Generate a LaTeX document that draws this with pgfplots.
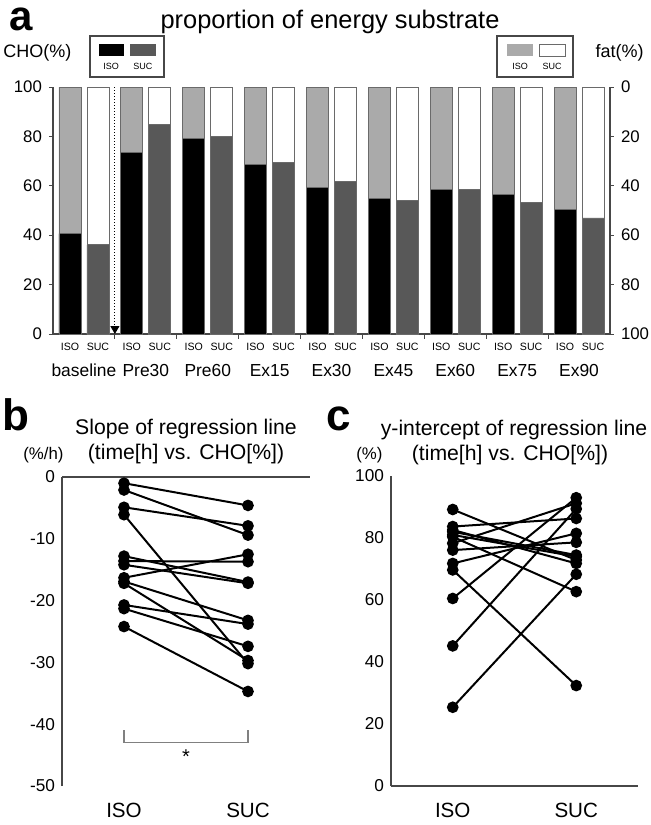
\documentclass[border=0pt]{standalone}
\usepackage{pgfplots}
\pgfplotsset{compat=1.18}
\usepackage{fontspec}
\setmainfont{Liberation Sans}
\usetikzlibrary{arrows.meta}
\definecolor{isofat}{HTML}{AAAAAA}
\definecolor{succho}{HTML}{585858}
\definecolor{edge}{HTML}{6A6A6A}
\definecolor{axc}{HTML}{474747}
\newcommand{\fs}[1]{\fontsize{#1}{#1}\selectfont}
\tikzset{pl/.style={black, line width=1pt, mark=*, mark size=2.4pt, mark options={solid, fill=black}}}
\begin{document}
\begin{tikzpicture}
\path[use as bounding box] (0,0) rectangle (325pt,-412.5pt);
% ---------------- panel a ----------------
\node[font=\bfseries\fs{21}, anchor=base west, inner sep=0] at (4.5pt,-15pt) {a};
\node[font=\fs{12.7}, anchor=base, inner sep=0] at (165pt,-14.3pt) {proportion of energy substrate};
\node[font=\fs{9}, anchor=base west, inner sep=0] at (1.5pt,-28.5pt) {CHO(\%)};
\node[font=\fs{9}, anchor=base east, inner sep=0] at (322pt,-28.5pt) {fat(\%)};
% legends
\draw[axc, line width=0.6pt] (45pt,-18pt) rectangle (82pt,-38.5pt);
\fill[black] (49.25pt,-22pt) rectangle (62pt,-28pt);
\fill[succho] (65pt,-22pt) rectangle (77.75pt,-28pt);
\node[font=\fs{4.5}] at (55.6pt,-33pt) {ISO};
\node[font=\fs{4.5}] at (71.4pt,-33pt) {SUC};
\draw[axc, line width=0.6pt] (248.5pt,-18pt) rectangle (286.5pt,-38.5pt);
\fill[isofat] (253.5pt,-22pt) rectangle (266.5pt,-28pt);
\draw[edge, line width=0.4pt, fill=white] (269.5pt,-22pt) rectangle (282.5pt,-28pt);
\node[font=\fs{4.5}] at (260pt,-33pt) {ISO};
\node[font=\fs{4.5}] at (276pt,-33pt) {SUC};
\begin{axis}[
  at={(26.5pt,-167pt)}, anchor=south west,
  width=278.5pt, height=123.5pt, scale only axis,
  xmin=-0.5, xmax=8.5, ymin=0, ymax=100,
  axis x line*=bottom, axis y line*=left,
  axis line style={axc, line width=0.6pt},
  ytick={0,20,...,100},
  tick align=outside, major tick length=2pt,
  ytick style={axc, line width=0.5pt},
  xtick style={draw=none},
  y tick label style={font=\fs{8.4}},
  /pgf/number format/assume math mode=true,
  xtick={0,...,8},
  xticklabels={baseline,Pre30,Pre60,Ex15,Ex30,Ex45,Ex60,Ex75,Ex90},
  x tick label style={font=\fs{8.7}, yshift=-9.5pt},
  clip=false,
]
% fat bars (full height, behind)
\addplot[ybar, bar width=0.355, bar shift=0pt, fill=isofat, draw=edge, line width=0.4pt]
  coordinates {(-0.226,100) (0.774,100) (1.774,100) (2.774,100) (3.774,100) (4.774,100) (5.774,100) (6.774,100) (7.774,100)};
\addplot[ybar, bar width=0.355, bar shift=0pt, fill=white, draw=edge, line width=0.4pt]
  coordinates {(0.226,100) (1.226,100) (2.226,100) (3.226,100) (4.226,100) (5.226,100) (6.226,100) (7.226,100) (8.226,100)};
% CHO bars
\addplot[ybar, bar width=0.355, bar shift=0pt, fill=black, draw=edge, line width=0.4pt]
  coordinates {(-0.226,40.6) (0.774,73.5) (1.774,79.2) (2.774,68.5) (3.774,59.3) (4.774,54.9) (5.774,58.5) (6.774,56.5) (7.774,50.3)};
\addplot[ybar, bar width=0.355, bar shift=0pt, fill=succho, draw=edge, line width=0.4pt]
  coordinates {(0.226,36.1) (1.226,85.0) (2.226,79.9) (3.226,69.3) (4.226,61.9) (5.226,53.9) (6.226,58.4) (7.226,53.2) (8.226,47.0)};
\draw[black, densely dotted, line width=0.5pt, -{Triangle[width=4.5pt,length=4pt]}] (axis cs:0.5,100) -- (axis cs:0.5,0);
\pgfplotsinvokeforeach{0,1,2,3,4,5,6,7,8}{
  \node[font=\fs{5.3}, inner sep=0] at (axis cs:#1,0) [xshift=-7pt, yshift=-6.5pt] {ISO};
  \node[font=\fs{5.3}, inner sep=0] at (axis cs:#1,0) [xshift=7pt, yshift=-6.5pt] {SUC};
}
\pgfplotsinvokeforeach{0.5,1.5,2.5,3.5,4.5,5.5,6.5,7.5}{
  \draw[axc, line width=0.5pt] (axis cs:#1,0) -- ([yshift=-2.5pt]axis cs:#1,0);
}
\end{axis}
\begin{axis}[
  at={(26.5pt,-167pt)}, anchor=south west,
  width=278.5pt, height=123.5pt, scale only axis,
  xmin=-0.5, xmax=8.5, ymin=0, ymax=100, y dir=reverse,
  axis x line=none, axis y line*=right,
  axis line style={axc, line width=0.6pt},
  ytick={0,20,...,100},
  tick align=outside, major tick length=2pt,
  ytick style={axc, line width=0.5pt},
  y tick label style={font=\fs{8.4}},
  /pgf/number format/assume math mode=true,
]
\end{axis}
% ---------------- panel b ----------------
\node[font=\bfseries\fs{22}, anchor=base west, inner sep=0] at (1pt,-215pt) {b};
\node[font=\fs{10.6}, anchor=base, inner sep=0] at (93pt,-217pt) {Slope of regression line};
\node[font=\fs{10.6}, anchor=base, inner sep=0] at (93pt,-229.5pt) {(time[h] vs. CHO[\%])};
\node[font=\fs{8.4}, anchor=base west, inner sep=0] at (11.5pt,-229.5pt) {(\%/h)};
\begin{axis}[
  at={(31pt,-393pt)}, anchor=south west,
  width=124pt, height=154.5pt, scale only axis,
  xmin=0.5, xmax=2.5, ymin=-50, ymax=0,
  axis x line*=top, axis y line*=left,
  axis line style={axc, line width=0.6pt},
  xtick=\empty, ytick={-50,-40,-30,-20,-10,0},
  tick style={draw=none},
  y tick label style={font=\fs{8.6}},
  /pgf/number format/assume math mode=true,
  clip=false,
]
\addplot[pl] coordinates {(1,-1.0) (2,-4.6)};
\addplot[pl] coordinates {(1,-2.1) (2,-9.4)};
\addplot[pl] coordinates {(1,-4.9) (2,-7.9)};
\addplot[pl] coordinates {(1,-6.1) (2,-30.2)};
\addplot[pl] coordinates {(1,-12.8) (2,-17.0)};
\addplot[pl] coordinates {(1,-13.6) (2,-13.7)};
\addplot[pl] coordinates {(1,-14.2) (2,-17.2)};
\addplot[pl] coordinates {(1,-16.3) (2,-12.5)};
\addplot[pl] coordinates {(1,-16.9) (2,-23.2)};
\addplot[pl] coordinates {(1,-17.2) (2,-29.7)};
\addplot[pl] coordinates {(1,-20.7) (2,-23.8)};
\addplot[pl] coordinates {(1,-21.3) (2,-27.4)};
\addplot[pl] coordinates {(1,-24.2) (2,-34.7)};
\draw[gray, line width=0.6pt] (axis cs:1,-41) -- (axis cs:1,-42.9) -- (axis cs:2,-42.9) -- (axis cs:2,-41);
\node[font=\fs{10}] at (axis cs:1.5,-45.2) {*};
\node[font=\fs{10.3}] at (axis cs:1,-50) [yshift=-12.4pt] {ISO};
\node[font=\fs{10.3}] at (axis cs:2,-50) [yshift=-12.4pt] {SUC};
\end{axis}
% ---------------- panel c ----------------
\node[font=\bfseries\fs{22}, anchor=base west, inner sep=0] at (163pt,-215pt) {c};
\node[font=\fs{10.6}, anchor=base, inner sep=0] at (257pt,-217.5pt) {y-intercept of regression line};
\node[font=\fs{10.6}, anchor=base, inner sep=0] at (255pt,-230pt) {(time[h] vs. CHO[\%])};
\node[font=\fs{8.4}, anchor=base west, inner sep=0] at (178pt,-229.5pt) {(\%)};
\begin{axis}[
  at={(195.5pt,-393pt)}, anchor=south west,
  width=123.5pt, height=155pt, scale only axis,
  xmin=0.5, xmax=2.5, ymin=0, ymax=100,
  axis x line*=bottom, axis y line*=left,
  axis line style={axc, line width=0.6pt},
  xtick=\empty, ytick={0,20,...,100},
  tick style={draw=none},
  y tick label style={font=\fs{8.6}},
  /pgf/number format/assume math mode=true,
  clip=false,
]
\addplot[pl] coordinates {(1,89.2) (2,72.9)};
\addplot[pl] coordinates {(1,83.7) (2,86.3)};
\addplot[pl] coordinates {(1,82.0) (2,74.5)};
\addplot[pl] coordinates {(1,82.6) (2,71.8)};
\addplot[pl] coordinates {(1,80.4) (2,62.7)};
\addplot[pl] coordinates {(1,78.3) (2,91.2)};
\addplot[pl] coordinates {(1,76.1) (2,78.6)};
\addplot[pl] coordinates {(1,71.8) (2,81.5)};
\addplot[pl] coordinates {(1,81.0) (2,74.0)};
\addplot[pl] coordinates {(1,69.7) (2,32.4)};
\addplot[pl] coordinates {(1,60.5) (2,93.0)};
\addplot[pl] coordinates {(1,45.2) (2,89.4)};
\addplot[pl] coordinates {(1,25.4) (2,68.3)};
\node[font=\fs{10.3}] at (axis cs:1,0) [yshift=-12.2pt] {ISO};
\node[font=\fs{10.3}] at (axis cs:2,0) [yshift=-12.2pt] {SUC};
\end{axis}
\end{tikzpicture}
\end{document}
